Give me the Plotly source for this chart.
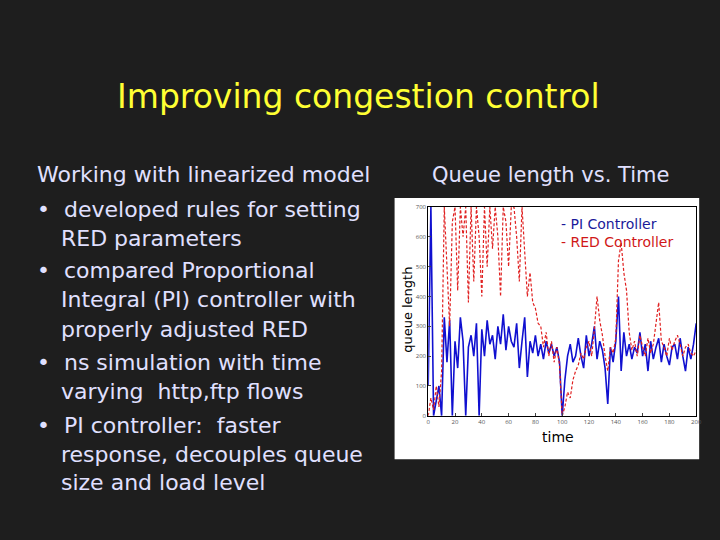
import plotly.graph_objects as go

time = list(range(0, 201, 2))
pi_queue = [100,700,0,50,100,0,330,180,320,0,
            250,160,330,250,0,230,270,200,310,0,
            290,200,320,240,270,190,300,240,340,220,
            300,250,230,310,160,250,330,130,250,210,
            270,200,240,190,250,210,240,200,230,180,
            0,120,200,240,180,200,260,200,160,270,
            200,240,300,190,250,220,160,40,230,180,
            250,400,150,280,200,240,190,230,210,280,
            200,240,150,250,190,230,260,180,240,200,
            170,230,240,190,260,200,150,230,190,240,310]
red_queue = [0,60,20,100,30,150,700,500,300,650,
             700,420,700,600,700,380,700,450,700,600,
             400,700,500,700,560,700,600,400,700,650,
             500,700,700,600,450,700,560,400,480,380,
             360,310,300,230,280,200,250,180,230,170,
             0,30,80,60,120,150,170,210,190,230,
             250,200,290,400,320,270,200,150,230,210,
             260,520,580,480,420,280,220,250,200,270,
             230,200,260,210,240,320,380,250,230,200,
             260,220,250,270,240,200,230,240,210,200,220]
x_ticks = [0,20,40,60,80,100,120,140,160,180,200]
y_ticks = [0,100,200,300,400,500,600,700]

title = "Improving congestion control"
lines = [("Working with linearized model", 33, 173),
         ("•  developed rules for setting", 33, 209),
         ("RED parameters", 58, 238),
         ("•  compared Proportional", 33, 271),
         ("Integral (PI) controller with", 58, 300),
         ("properly adjusted RED", 58, 330),
         ("•  ns simulation with time", 33, 364),
         ("varying  http,ftp flows", 58, 393),
         ("•  PI controller:  faster", 33, 428),
         ("response, decouples queue", 58, 457),
         ("size and load level", 58, 486)]

W, H = 720, 540
fig = go.Figure()
fig.add_trace(go.Scatter(x=time, y=pi_queue, mode="lines", line=dict(color="#1010d0", width=1.6), showlegend=False))
fig.add_trace(go.Scatter(x=time, y=red_queue, mode="lines", line=dict(color="#e02020", width=1.2, dash="3px,2px"), showlegend=False))

fig.add_shape(type="rect", xref="paper", yref="paper", x0=397/W, x1=705/W, y0=1-462/H, y1=1-197/H,
              fillcolor="white", line=dict(width=0), layer="below")

ann = [dict(text=title, x=360/W, y=1-94/H, font=dict(size=33, color="#ffff33"))]
for t, x, y in lines:
    ann.append(dict(text=t, x=x/W, y=1-y/H, xanchor="left", font=dict(size=22, color="#e0e0ff")))
ann.append(dict(text="Queue length vs. Time", x=555/W, y=1-174/H, font=dict(size=21, color="#e0e0ff")))
ann.append(dict(text="queue length", x=410/W, y=1-310/H, textangle=-90, font=dict(size=13, color="black")))
ann.append(dict(text="time", x=562/W, y=1-440/H, font=dict(size=14, color="black")))
ann.append(dict(text="- PI Controller", x=563/W, y=1-223/H, xanchor="left", font=dict(size=14, color="#1a1a9a")))
ann.append(dict(text="- RED Controller", x=563/W, y=1-242/H, xanchor="left", font=dict(size=14, color="#d01818")))
for a in ann:
    a.update(xref="paper", yref="paper", showarrow=False, yanchor="middle")
    a.setdefault("xanchor", "center")
    a["font"]["family"] = "DejaVu Sans"

fig.update_layout(
    width=W, height=H, margin=dict(l=0, r=0, t=0, b=0),
    paper_bgcolor="#1e1e1e", plot_bgcolor="white", annotations=ann,
    xaxis=dict(domain=[431/W, 702/W], range=[0, 200], tickvals=x_ticks, showgrid=False, zeroline=False,
               ticks="inside", ticklen=3, tickfont=dict(size=6, color="#555"), showline=True, linecolor="black", mirror=True),
    yaxis=dict(domain=[1-418/H, 1-206/H], range=[0, 700], tickvals=y_ticks, showgrid=False, zeroline=False,
               ticks="inside", ticklen=3, tickfont=dict(size=6, color="#555"), showline=True, linecolor="black", mirror=True),
)
fig.write_html("out.html", config={"displayModeBar": False},
               post_script="document.body.style.margin='0';document.body.style.background='#1e1e1e';")
